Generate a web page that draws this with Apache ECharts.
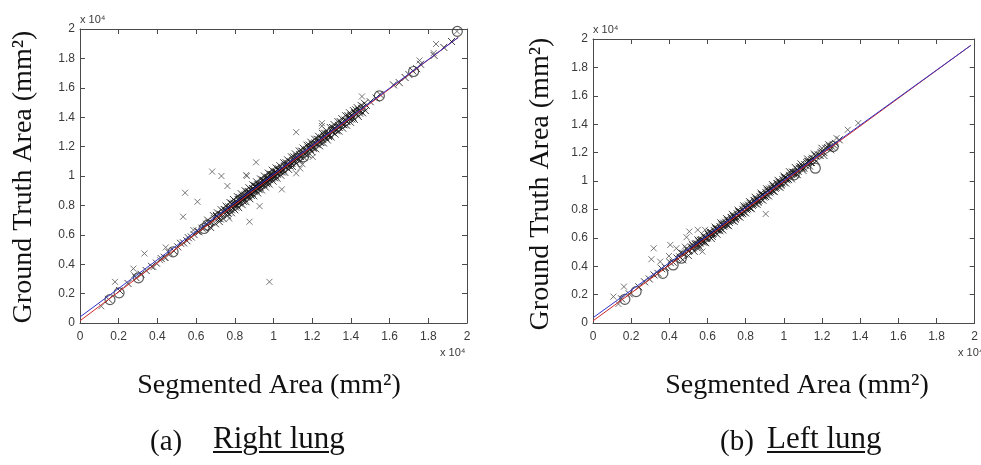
<!DOCTYPE html>
<html>
<head>
<meta charset="utf-8">
<script src="https://cdn.jsdelivr.net/npm/echarts@6/dist/echarts.min.js"></script>
<style>
  html, body { margin: 0; padding: 0; background: #fff; }
  #wrap { position: relative; width: 981px; height: 465px; overflow: hidden; }
  #chart { position: absolute; left: 0; top: 0; width: 981px; height: 465px; }
  .cap { position: absolute; top: 420px; font-family: "Liberation Serif", serif;
         font-size: 29px; color: #111; white-space: nowrap; line-height: 40px; }
  .cap.name { font-size: 31px; top: 418px; text-decoration: underline; text-underline-offset: 3px; text-decoration-thickness: 1.5px; }
</style>
</head>
<body>
<div id="wrap">
  <div id="chart"></div>
  <div class="cap" style="left:150px">(a)</div>
  <div class="cap name" style="left:213px">Right lung</div>
  <div class="cap" style="left:720px">(b)</div>
  <div class="cap name" style="left:767px">Left lung</div>
</div>
<script>
// Axis tick values (mm²), shown in units of 10^4
const tickValues = [0, 2000, 4000, 6000, 8000, 10000, 12000, 14000, 16000, 18000, 20000];

// ---- (a) Right lung: segmented area vs ground truth area (mm²) ----
const rightBand = [
  [1480,1610],[2050,2200],[2480,2690],[2900,3080],[3150,3320],[3420,3570],[3700,3850],[3950,4070],[4200,4380],[4350,4470],
  [4600,4790],[4850,4900],[5050,5180],[5200,5420],[5350,5450],[5520,5600],[5600,5800],[5750,5850],[5900,6010],[6050,6250],
  [6150,6200],[6300,6450],[6420,6480],[6550,6720],[6680,6800],[6800,6850],[6950,7100],[7050,7250],[7150,7120],[7250,7400],
  [7350,7380],[7420,7550],[7500,7700],[7580,7520],[7650,7800],[7720,7750],[7800,7900],[7850,8080],[7900,7820],[7980,8050],
  [8050,8250],[8100,8020],[8150,8200],[8220,8400],[8280,8250],[8350,8480],[8400,8320],[8450,8620],[8500,8450],[8550,8700],
  [8600,8560],[8650,8820],[8700,8650],[8750,8900],[8800,8760],[8850,9050],[8900,8820],[8950,9100],[9000,8950],[9050,9250],
  [9100,9020],[9150,9300],[9200,9150],[9250,9400],[9300,9220],[9350,9500],[9400,9350],[9450,9600],[9500,9420],[9550,9700],
  [9600,9560],[9650,9800],[9700,9620],[9750,9900],[9800,9750],[9850,10000],[9900,9850],[9950,10100],[10000,9950],[10050,10200],
  [10100,10020],[10150,10250],[10200,10120],[10300,10380],[10350,10280],[10450,10550],[10500,10420],[10600,10700],[10650,10580],
  [10750,10850],[10800,10700],[10900,10980],[10950,10850],[11050,11150],[11100,11000],[11200,11300],[11250,11180],[11350,11450],
  [11400,11320],[11500,11650],[11600,11500],[11700,11800],[11750,11650],[11850,11950],[11900,11820],[12000,12150],[12050,11950],
  [12150,12250],[12250,12150],[12350,12480],[12400,12300],[12500,12600],[12550,12480],[12650,12750],[12700,12600],[12800,12900],
  [12900,12800],[13000,13100],[13050,12980],[13150,13250],[13250,13150],[13350,13450],[13400,13300],[13500,13600],[13600,13500],
  [13700,13800],[13800,13700],[13900,14000],[13950,13880],[14050,14150],[14100,14000],[14200,14300],[14300,14200],[14400,14500],
  [14450,14400],[14550,14600],[14650,14700],[14800,14800],[15000,15050],[15300,15300],[15500,15550],[16200,16200],[16500,16350],
  [16800,16700],[17000,16900],[17200,17150],[17400,17300],[17600,17600],[18300,18200],[18800,18750],[19200,19150],
  [7600,7650],[7700,7900],[7820,7700],[7950,8150],[8080,8100],[8180,8380],[8250,8150],[8380,8550],[8420,8500],[8520,8680],
  [8620,8750],[8680,8600],[8720,8950],[8780,8850],[8880,9000],[8920,9150],[9020,9080],[9080,9300],[9120,9200],[9180,9400],
  [9280,9350],[9320,9450],[9420,9480],[9480,9700],[9520,9550],[9620,9750],[9680,9900],[9720,9780],[9820,9920],[9880,10100],
  [9920,9950],[10020,10100],[10080,10300],[10180,10200],[10250,10400],[10400,10450],[10550,10650],[10700,10750],[10850,10950],
  [11000,11050],[11150,11200],[11300,11350],[11450,11500],[11650,11700],[11800,11900],[11950,12000],[12100,12200],[12300,12350],
  [12450,12550],[12600,12650],[12750,12850],[12850,12750],[13100,13150],[13300,13350],[13550,13550],[13750,13750],[14000,14100],
  [14250,14250],[14500,14450],
  [6600,7000],[6750,6500],[6900,7300],[7000,6750],[7100,7500],[7200,6900],[7300,7700],[7400,7100],[7550,7950],[7620,7300],
  [7750,8200],[7830,7500],[7930,8400],[8000,7700],[8130,8600],[8200,7850],[8330,8800],[8380,8050],[8530,9000],[8580,8250],
  [8730,9200],[8780,8450],[8930,9400],[8980,8650],[9130,9600],[9180,8850],[9330,9800],[9380,9050],[9530,10000],[9580,9250],
  [9730,10200],[9780,9450],[9930,10400],[9980,9650],[10130,10550],[10180,9850],[10330,10700],[10380,10050],[10530,10900],
  [10580,10250],[10730,11100],[10780,10450],[10930,11300],[10980,10650],[11130,11500],[11180,10850],[11330,11700],[11380,11050],
  [11530,11900],[11580,11250],[11730,12100],[11780,11450],[11930,12300],[11980,11650],[12130,12500],[12180,11850],[12330,12700],
  [12380,12050],[12530,12900],[12580,12250],[12730,13100],[12780,12450],[12930,13300],[12980,12650],[13130,13500],[13180,12850],
  [13330,13700],[13380,13050],[13530,13900],[13580,13250],[13730,14100],[13780,13450],[13930,14300],[13980,13650],[14130,14450],
  [14180,13850],[14330,14650],[14380,14050],[14530,14800],[14600,14300],[14700,14950],[14750,14450],
  [7050,7320],[7450,7720],[7850,8120],[8250,8520],[8650,8920],[9050,9320],[9450,9720],[9850,10120],[10250,10500],[10650,10900],
  [11050,11300],[11450,11700],[11850,12100],[12250,12500],[12650,12900],[13050,13300],[13450,13700],[13850,14100],[14250,14500],
  [7250,7080],[7650,7480],[8050,7880],[8450,8280],[8850,8680],[9250,9080],[9650,9480],[10050,9880],[10450,10280],[10850,10680],
  [11250,11080],[11650,11480],[12050,11880],[12450,12280],[12850,12680],[13250,13080],[13650,13480],[14050,13880],[14450,14280]
];
const rightOutliers = [
  [1100,1140],[1810,2800],[2760,3700],[2800,3250],[3330,4730],[3800,3800],[4430,5140],[4430,4430],[4140,4270],[5330,7230],
  [5430,8860],[6070,8250],[5860,6320],[6830,10300],[7310,10000],[7620,9320],[7710,7110],[8590,10070],[8620,10000],[8760,6890],
  [9100,10930],[9280,7950],[9790,2800],[10430,9090],[11170,12980],[11170,10180],[11380,10520],[11500,10800],[12030,11300],
  [12500,13590],[12500,13400],[14570,15410],[17550,17860],[18400,18980],[18280,18360],[19480,19840]
];
const rightCircles = [
  [1550,1590],[2020,2050],[3020,3070],[4810,4840],[6410,6430],[6590,6660],[11550,11300],[15470,15450],[17240,17110],[19500,19840]
];
const rightFitRed = [[0, 150], [19550, 19430]];
const rightFitBlue = [[0, 410], [19550, 19430]];

// ---- (b) Left lung ----
const leftBand = [
  [1500,1700],[1900,2050],[2400,2550],[2700,2900],[2950,3100],[3200,3380],[3400,3500],[3600,3820],[3800,3900],[4050,4250],
  [4200,4280],[4400,4580],[4550,4650],[4700,4900],[4800,4850],[4950,5150],[5050,5100],[5150,5350],[5250,5300],[5350,5550],
  [5450,5450],[5550,5750],[5600,5620],[5700,5880],[5800,5800],[5900,6050],[5950,5950],[6050,6250],[6100,6100],[6200,6380],
  [6250,6250],[6350,6520],[6400,6380],[6500,6650],[6550,6520],[6650,6800],[6700,6650],[6800,6950],[6850,6800],[6950,7100],
  [7000,6950],[7100,7250],[7150,7080],[7250,7400],[7300,7230],[7400,7550],[7450,7380],[7550,7700],[7600,7530],[7700,7850],
  [7750,7680],[7850,8000],[7900,7830],[8000,8150],[8050,7980],[8150,8300],[8200,8130],[8300,8450],[8350,8280],[8450,8600],
  [8500,8420],[8600,8750],[8650,8570],[8750,8900],[8800,8720],[8900,9050],[8950,8870],[9050,9200],[9100,9020],[9200,9350],
  [9250,9170],[9350,9500],[9400,9320],[9500,9650],[9550,9480],[9650,9800],[9700,9620],[9800,9950],[9850,9780],[9950,10100],
  [10000,9920],[10100,10250],[10150,10080],[10300,10400],[10350,10280],[10500,10600],[10550,10480],[10700,10800],[10750,10680],
  [10900,10980],[10950,10880],[11100,11150],[11150,11100],[11300,11380],[11400,11300],[11500,11600],[11600,11550],[11800,11850],
  [11900,11800],[12000,12100],[12100,12000],[12300,12350],[12500,12450],[12700,12650],[12900,12900],
  [5000,5050],[5200,5250],[5400,5600],[5500,5550],[5650,5800],[5750,5700],[5850,6000],[6000,6000],[6150,6300],[6300,6300],
  [6450,6600],[6600,6600],[6750,6900],[6900,6900],[7050,7200],[7200,7200],[7350,7500],[7500,7450],[7650,7800],[7800,7750],
  [7950,8100],[8100,8050],[8250,8400],[8400,8350],[8550,8700],[8700,8650],[8850,9000],[9000,8950],[9150,9300],[9300,9250],
  [9450,9600],[9600,9550],[9750,9900],[9900,9850],[10050,10200],[10200,10150],[10400,10500],[10600,10600],[10800,10900],
  [11000,11000],[11200,11300],[11450,11500],[11700,11750],[11950,12000],[12200,12300],[12400,12400],[12600,12550],
  [4600,4950],[4700,4450],[4900,5250],[5000,4750],[5200,5550],[5300,5050],[5500,5850],[5600,5350],[5800,6150],[5900,5650],
  [6100,6450],[6200,5950],[6400,6750],[6500,6250],[6700,7050],[6800,6550],[7000,7350],[7100,6850],[7300,7650],[7400,7150],
  [7600,7950],[7700,7450],[7900,8250],[8000,7750],[8200,8550],[8300,8050],[8500,8850],[8600,8350],[8800,9150],[8900,8650],
  [9100,9450],[9200,8950],[9400,9750],[9500,9250],[9700,10050],[9800,9550],[10000,10350],[10100,9850],[10300,10650],[10400,10150],
  [10600,10950],[10700,10450],[10900,11200],[11000,10750],[11250,11550],[11350,11050],[11600,11900],[11700,11400],[12000,12300],
  [12100,11800],[12350,12550],[12450,12200],
  [5250,5430],[5650,5830],[6050,6230],[6450,6630],[6850,7030],[7250,7430],[7650,7830],[8050,8230],[8450,8630],[8850,9030],
  [9250,9430],[9650,9830],[10050,10230],[10450,10630],[10850,11000],[11250,11380],[11650,11780],
  [5450,5300],[5850,5700],[6250,6100],[6650,6500],[7050,6900],[7450,7300],[7850,7700],[8250,8100],[8650,8500],[9050,8900],
  [9450,9300],[9850,9700],[10250,10100],[10650,10500],[11050,10900],[11450,11300]
];
const leftOutliers = [
  [1070,1860],[1620,2560],[1330,1340],[3180,5260],[3060,4490],[3520,4320],[4050,5500],[3980,4720],[4370,5260],[4900,6040],
  [5050,6440],[5490,6560],[5870,6560],[5730,5030],[4810,5380],[9050,7680],[13350,13610],[13900,14080],[12760,13020]
];
const leftCircles = [
  [1670,1670],[2260,2210],[3660,3500],[4200,4090],[4630,4560],[10540,10430],[11650,10900],[12590,12430]
];
const leftFitRed = [[0, 150], [19800, 19550]];
const leftFitBlue = [[0, 370], [19800, 19550]];

// Plot styling
const frameColor = '#4a4a4a';
const labelColor = '#3a3a3a';
const crossPath = 'path://M0,0L10,10M10,0L0,10';

function tickLabel(v) {
  return String(parseFloat((v / 10000).toFixed(1)));
}

// MATLAB-style boxed axes: labelled bottom/left, unlabelled top/right, ticks pointing inward
function xAxisFor(gridIndex, position) {
  const labelled = position === 'bottom';
  return {
    type: 'value', gridIndex, position, min: 0, max: 20000, interval: 2000,
    axisLine: { show: true, onZero: false, lineStyle: { color: frameColor, width: 1 } },
    axisTick: { show: true, inside: true, length: 5, lineStyle: { color: frameColor } },
    axisLabel: { show: labelled, color: labelColor, fontSize: 12, fontFamily: 'Liberation Sans', margin: 8,
                 formatter: tickLabel, showMinLabel: true, showMaxLabel: true },
    splitLine: { show: false }
  };
}
function yAxisFor(gridIndex, position) {
  const labelled = position === 'left';
  const ax = {
    type: 'value', gridIndex, position, min: 0, max: 20000, interval: 2000,
    axisLine: { show: true, onZero: false, lineStyle: { color: frameColor, width: 1 } },
    axisTick: { show: true, inside: true, length: 5, lineStyle: { color: frameColor } },
    axisLabel: { show: labelled, color: labelColor, fontSize: 12, fontFamily: 'Liberation Sans', margin: 5,
                 formatter: tickLabel, showMinLabel: true, showMaxLabel: true },
    splitLine: { show: false }
  };
  if (labelled) {
    ax.name = 'x 10\u2074';
    ax.nameLocation = 'end';
    ax.nameGap = 4;
    ax.nameTextStyle = { color: labelColor, fontSize: 11, fontFamily: 'Liberation Sans', align: 'left' };
  }
  return ax;
}

function crossSeries(data, xi, yi, color, size) {
  return {
    type: 'scatter', xAxisIndex: xi, yAxisIndex: yi, data,
    symbol: crossPath, symbolSize: size, silent: true,
    itemStyle: { color: 'rgba(0,0,0,0)', borderColor: color, borderWidth: 1 }
  };
}
function circleSeries(data, xi, yi) {
  return {
    type: 'scatter', xAxisIndex: xi, yAxisIndex: yi, data,
    symbol: 'circle', symbolSize: 10, silent: true,
    itemStyle: { color: 'rgba(0,0,0,0)', borderColor: '#333', borderWidth: 1.2 }
  };
}
function fitSeries(data, color, xi, yi) {
  return {
    type: 'line', xAxisIndex: xi, yAxisIndex: yi, data, symbol: 'none', silent: true,
    lineStyle: { color, width: 1 }, z: 5
  };
}

const serifTitle = { fontFamily: 'Liberation Serif', fontSize: 28, fill: '#111' };
const axisTitle = { fontFamily: 'Liberation Serif', fontSize: 28, fill: '#111' };

const chart = echarts.init(document.getElementById('chart'), null, { renderer: 'canvas' });
chart.setOption({
  animation: false,
  backgroundColor: '#fff',
  grid: [
    { left: 80, top: 29, width: 387, height: 294 },
    { left: 593, top: 39, width: 392, height: 284 }
  ],
  xAxis: [xAxisFor(0, 'bottom'), xAxisFor(0, 'top'), xAxisFor(1, 'bottom'), xAxisFor(1, 'top')],
  yAxis: [yAxisFor(0, 'left'), yAxisFor(0, 'right'), yAxisFor(1, 'left'), yAxisFor(1, 'right')],
  graphic: [
    { type: 'text', left: 440, top: 347, style: { text: 'x 10\u2074', fill: labelColor, fontSize: 11, fontFamily: 'Liberation Sans' } },
    { type: 'text', left: 958, top: 347, style: { text: 'x 10\u2074', fill: labelColor, fontSize: 11, fontFamily: 'Liberation Sans' } },
    { type: 'text', x: 24, y: 177, rotation: Math.PI / 2, style: Object.assign({ text: 'Ground Truth Area (mm\u00b2)', align: 'center', verticalAlign: 'middle' }, serifTitle) },
    { type: 'text', x: 541, y: 184, rotation: Math.PI / 2, style: Object.assign({ text: 'Ground Truth Area (mm\u00b2)', align: 'center', verticalAlign: 'middle' }, serifTitle) },
    { type: 'text', x: 269, y: 386, style: Object.assign({ text: 'Segmented Area (mm\u00b2)', align: 'center', verticalAlign: 'middle' }, axisTitle) },
    { type: 'text', x: 797, y: 386, style: Object.assign({ text: 'Segmented Area (mm\u00b2)', align: 'center', verticalAlign: 'middle' }, axisTitle) }
  ],
  series: [
    crossSeries(rightBand, 0, 0, '#111', 7),
    crossSeries(rightOutliers, 0, 0, '#555', 6),
    circleSeries(rightCircles, 0, 0),
    fitSeries(rightFitRed, '#d02828', 0, 0),
    fitSeries(rightFitBlue, '#3434c8', 0, 0),
    crossSeries(leftBand, 2, 2, '#111', 7),
    crossSeries(leftOutliers, 2, 2, '#555', 6),
    circleSeries(leftCircles, 2, 2),
    fitSeries(leftFitRed, '#d02828', 2, 2),
    fitSeries(leftFitBlue, '#3434c8', 2, 2)
  ]
});
</script>
</body>
</html>
